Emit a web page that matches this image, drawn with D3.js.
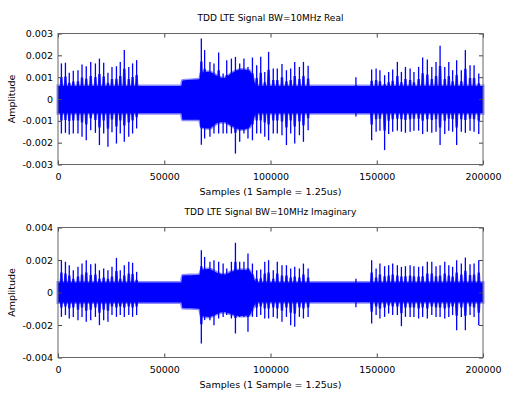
<!DOCTYPE html>
<html>
<head>
<meta charset="utf-8">
<script src="https://cdn.jsdelivr.net/npm/d3@7"></script>
<style>
  body { margin: 0; background: #fff; }
  text { font-family: "DejaVu Sans", sans-serif; }
</style>
</head>
<body>
<script>
// amplitudes are in units of 0.001
const xTicks = [0, 50000, 100000, 150000, 200000];
const realYTicks = [-0.003, -0.002, -0.001, 0, 0.001, 0.002, 0.003];
const imagYTicks = [-0.004, -0.002, 0, 0.002, 0.004];

// dense noise band envelope
const bandX = [0, 38000, 58000, 58600, 66500, 67500, 71000, 75000, 78000, 82000, 86000, 90000, 92000, 93500, 200000];
const realBandHi = [0.6, 0.6, 0.6, 0.85, 0.9, 1.2, 1.25, 1.05, 0.95, 1.2, 1.35, 1.3, 0.9, 0.6, 0.6];
const realBandLo = [-0.65, -0.65, -0.65, -0.95, -0.95, -1.3, -1.35, -1.1, -1.05, -1.25, -1.4, -1.3, -0.9, -0.65, -0.65];
const imagBandHi = [0.62, 0.62, 0.62, 1.05, 1.1, 1.4, 1.45, 1.2, 1.1, 1.3, 1.4, 1.35, 0.9, 0.62, 0.62];
const imagBandLo = [-0.62, -0.62, -0.62, -0.95, -1.0, -1.45, -1.5, -1.3, -1.2, -1.35, -1.45, -1.4, -0.9, -0.6, -0.6];

// reference-signal spikes (sample index)
const spikeX = [1600, 3500, 5300, 7200, 9400, 11300, 13300, 15400, 17600, 19500, 21500, 23500, 25400, 27500, 29300, 31200, 33300, 35100, 37000,
  67450, 69000, 71500, 73400, 75600, 77700, 79400, 81600, 83500, 85500, 87500, 89400, 91500, 93500, 95400, 97300, 99100, 101300, 103200, 105400, 107500, 109500, 111400, 113600, 115500, 117700,
  140200,
  147600, 149700, 151500, 153700, 155600, 157500, 159700, 161600, 163500, 165700, 167500, 169700, 171600, 173800, 175900, 177900, 179800, 182000, 183900, 185700, 187600, 189800, 191700, 193900, 195800, 198000];

const realHi = [1.63, 1.66, 1.2, 1.29, 1.32, 1.58, 1.5, 1.7, 1.63, 1.85, 1.66, 1.2, 1.47, 1.5, 1.7, 2.24, 1.47, 1.63, 1.78,
  2.77, 2.24, 1.7, 1.63, 2.13, 1.17, 1.78, 1.85, 1.93, 1.63, 1.85, 1.47, 1.9, 1.55, 1.93, 1.24, 2.16, 1.4, 1.4, 1.6, 1.32, 1.4, 1.7, 1.47, 1.7, 1.52,
  1.0,
  1.35, 1.4, 1.32, 1.09, 1.24, 1.35, 1.7, 1.24, 1.47, 1.4, 1.24, 1.47, 1.9, 1.81, 1.47, 1.7, 2.44, 1.47, 1.7, 1.32, 1.78, 1.32, 2.24, 1.55, 1.55, 1.17];
const realLo = [-1.58, -1.55, -1.63, -1.58, -1.58, -1.73, -1.89, -1.43, -1.55, -2.11, -1.58, -2.19, -1.52, -2.04, -1.58, -1.96, -1.73, -1.58, -1.35,
  -2.1, -1.81, -1.73, -1.58, -1.58, -1.58, -1.58, -1.58, -2.5, -1.96, -1.58, -1.81, -1.89, -1.58, -1.58, -1.73, -1.89, -1.58, -1.58, -1.66, -2.11, -1.58, -2.04, -1.66, -1.96, -1.43,
  -0.8,
  -1.89, -1.5, -1.45, -2.34, -1.6, -1.5, -1.45, -1.5, -1.55, -1.5, -1.45, -1.45, -1.6, -1.5, -1.55, -1.5, -2.11, -1.6, -1.45, -1.5, -2.11, -1.5, -1.55, -1.45, -1.5, -1.6];

const imagHi = [1.99, 1.89, 1.68, 1.37, 1.58, 1.78, 1.99, 1.74, 1.78, 1.37, 1.48, 1.37, 1.58, 2.13, 1.37, 1.68, 1.89, 1.83, 1.27,
  2.6, 2.19, 1.89, 1.99, 1.89, 1.78, 1.48, 1.89, 3.06, 1.89, 1.89, 2.4, 1.78, 1.37, 1.42, 1.89, 1.99, 1.37, 1.89, 1.68, 1.68, 1.48, 1.58, 1.48, 1.78, 1.48,
  0.85,
  1.99, 1.48, 1.78, 1.62, 1.68, 1.78, 1.68, 1.58, 1.62, 1.68, 1.62, 1.58, 1.62, 1.89, 1.89, 1.62, 1.68, 1.89, 1.68, 1.58, 1.99, 1.78, 2.15, 1.74, 1.78, 1.99];
const imagLo = [-1.5, -1.39, -1.6, -1.5, -1.7, -1.5, -1.8, -1.7, -1.5, -2.01, -1.7, -1.8, -1.39, -1.5, -1.39, -1.5, -1.39, -1.5, -1.39,
  -3.14, -1.7, -1.7, -2.01, -1.6, -1.5, -1.39, -1.6, -2.52, -1.5, -1.5, -2.42, -1.5, -1.5, -1.39, -1.6, -1.6, -1.5, -1.6, -1.8, -1.5, -2.01, -2.11, -1.5, -1.6, -1.5,
  -0.9,
  -1.91, -1.39, -1.6, -1.5, -1.29, -1.39, -1.39, -2.07, -1.5, -1.5, -1.5, -1.6, -1.5, -1.6, -1.39, -1.5, -1.5, -1.6, -1.5, -1.39, -2.32, -1.5, -2.32, -1.39, -1.5, -2.01];

const width = 515;
const height = 399;
const blue = "#0000ff";

const svg = d3.select("body").append("svg")
    .attr("width", width)
    .attr("height", height);

function panel(opts) {
  const left = 58, right = 483;
  const x = d3.scaleLinear().domain([0, 200000]).range([left, right]);
  const y = d3.scaleLinear().domain(opts.yDomain).range([opts.bottom, opts.top]);
  const g = svg.append("g");

  // noise band, with a soft rim so the edge is not hard
  const band = bandX.map((d, i) => ({ x: d, hi: opts.bandHi[i] * 1e-3, lo: opts.bandLo[i] * 1e-3 }));
  const area = d3.area().curve(d3.curveMonotoneX).x(d => x(d.x)).y0(d => y(d.lo)).y1(d => y(d.hi));
  g.append("path")
      .datum(band)
      .attr("fill", "none")
      .attr("stroke", blue)
      .attr("stroke-opacity", 0.45)
      .attr("stroke-width", 3)
      .attr("d", area);
  g.append("path")
      .datum(band)
      .attr("fill", blue)
      .attr("d", area);

  // spikes: a thin line to the tip plus a wider foot where the bursts thicken the band
  const spikes = spikeX.map((d, i) => ({ x: d, hi: opts.hi[i] * 1e-3, lo: opts.lo[i] * 1e-3 }));
  g.selectAll(".foot")
    .data(spikes)
    .join("path")
      .attr("fill", blue)
      .attr("fill-opacity", 0.85)
      .attr("d", d => {
        const cx = x(d.x);
        const t = y(d.hi * 0.62), b = y(d.lo * 0.62), z = y(0);
        return `M${cx - 2.2},${z}L${cx - 1.2},${t}L${cx + 1.2},${t}L${cx + 2.2},${z}` +
               `L${cx + 1.2},${b}L${cx - 1.2},${b}Z`;
      });
  g.selectAll(".spike")
    .data(spikes)
    .join("line")
      .attr("x1", d => x(d.x))
      .attr("x2", d => x(d.x))
      .attr("y1", d => y(d.lo))
      .attr("y2", d => y(d.hi))
      .attr("stroke", blue)
      .attr("stroke-width", 1.3);

  // axes with inward ticks
  const fmtY = d => d === 0 ? "0" : d.toFixed(3);
  const ax = (a) => a.attr("color", "#444").call(s => s.select(".domain").remove());
  g.append("g").attr("transform", `translate(${left},0)`)
    .call(d3.axisLeft(y).tickValues(opts.yTicks).tickSize(-4).tickPadding(5).tickFormat(fmtY))
    .call(ax)
    .selectAll("text").attr("fill", "#000").style("font-size", "9.5px");
  g.append("g").attr("transform", `translate(${right},0)`)
    .call(d3.axisRight(y).tickValues(opts.yTicks).tickSize(-4).tickFormat(""))
    .call(ax);
  g.append("g").attr("transform", `translate(0,${opts.bottom})`)
    .call(d3.axisBottom(x).tickValues(xTicks).tickSize(-4).tickPadding(9).tickFormat(d3.format("d")))
    .call(ax)
    .selectAll("text").attr("fill", "#000").style("font-size", "9.5px");
  g.append("g").attr("transform", `translate(0,${opts.top})`)
    .call(d3.axisTop(x).tickValues(xTicks).tickSize(-4).tickFormat(""))
    .call(ax);

  g.append("rect")
      .attr("x", left).attr("y", opts.top)
      .attr("width", right - left).attr("height", opts.bottom - opts.top)
      .attr("fill", "none")
      .attr("stroke", "#666");

  g.append("text")
      .attr("x", (left + right) / 2).attr("y", opts.top - 13)
      .attr("text-anchor", "middle")
      .style("font-size", "9px")
      .text(opts.title);
  g.append("text")
      .attr("x", (left + right) / 2).attr("y", opts.bottom + 30)
      .attr("text-anchor", "middle")
      .style("font-size", "9.5px")
      .text("Samples (1 Sample = 1.25us)");
  g.append("text")
      .attr("transform", `translate(15,${(opts.top + opts.bottom) / 2}) rotate(-90)`)
      .attr("text-anchor", "middle")
      .style("font-size", "9.5px")
      .text("Amplitude");
}

panel({
  title: "TDD LTE Signal BW=10MHz Real",
  top: 33.5, bottom: 164.5, yDomain: [-0.003, 0.003], yTicks: realYTicks,
  bandHi: realBandHi, bandLo: realBandLo, hi: realHi, lo: realLo
});
panel({
  title: "TDD LTE Signal BW=10MHz Imaginary",
  top: 227.5, bottom: 357.5, yDomain: [-0.004, 0.004], yTicks: imagYTicks,
  bandHi: imagBandHi, bandLo: imagBandLo, hi: imagHi, lo: imagLo
});
</script>
</body>
</html>
